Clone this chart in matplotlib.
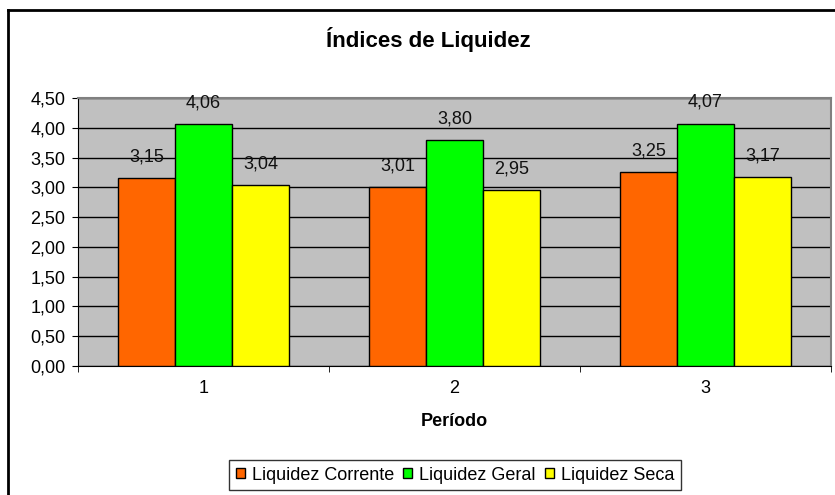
import numpy as np
import matplotlib.pyplot as plt
from matplotlib.lines import Line2D

plt.rcParams['font.family'] = ['Liberation Sans', 'DejaVu Sans']

periodos = ['1', '2', '3']
series = ['Liquidez Corrente', 'Liquidez Geral', 'Liquidez Seca']
corrente = [3.15, 3.01, 3.25]
geral = [4.06, 3.80, 4.07]
seca = [3.04, 2.95, 3.17]
cores = ['#FF6600', '#00FF00', '#FFFF00']
yticks = [0, 0.5, 1.0, 1.5, 2.0, 2.5, 3.0, 3.5, 4.0, 4.5]

W, H = 835, 495
fig = plt.figure(figsize=(W / 100, H / 100), dpi=100)
ax = fig.add_axes([78 / W, 1 - 366 / H, 753 / W, 268 / H])
ax.set_facecolor('#C0C0C0')

x = np.arange(len(periodos))
w = 0.227
for i, (vals, nome) in enumerate(zip([corrente, geral, seca], series)):
    pos = x + (i - 1) * w
    ax.bar(pos, vals, width=w, color=cores[i], edgecolor='black', linewidth=1, label=nome, zorder=3)
    for p, v in zip(pos, vals):
        ax.annotate(f'{v:.2f}'.replace('.', ','), (p, v), xytext=(0, 12), textcoords='offset points',
                    ha='center', va='baseline', fontsize=13, color='#111111', zorder=4)

ax.set_xlim(-0.5, 2.5)
ax.set_ylim(0, 4.5)
ax.set_yticks(yticks)
ax.set_yticklabels([f'{t:.2f}'.replace('.', ',') for t in yticks], fontsize=13)
ax.yaxis.grid(True, color='black', linewidth=1, zorder=0)
ax.set_axisbelow(True)

ax.set_xticks(x)
ax.set_xticklabels(periodos, fontsize=13)
ax.set_xticks([-0.5, 0.5, 1.5, 2.5], minor=True)
ax.tick_params(axis='x', which='major', length=0, pad=10)
ax.tick_params(axis='x', which='minor', length=4, color='black')
ax.tick_params(axis='y', length=4, color='black', pad=5)

for s in ['top', 'right']:
    ax.spines[s].set_color('#808080')
    ax.spines[s].set_linewidth(1.5)
ax.spines['left'].set_color('black')
ax.spines['bottom'].set_color('black')

fig.text(454 / W, 1 - 421 / H, 'Período', ha='center', va='center', fontsize=13, fontweight='bold')
fig.text(428 / W, 1 - 40 / H, 'Índices de Liquidez', ha='center', va='center', fontsize=16, fontweight='bold')

leg = fig.legend(loc='center', bbox_to_anchor=(455 / W, 1 - 475 / H), ncol=3, fontsize=13,
                 frameon=True, fancybox=False, edgecolor='black', handlelength=0.5, handleheight=0.5,
                 handletextpad=0.4, columnspacing=0.5, borderpad=0.35, borderaxespad=0)
leg.get_frame().set_linewidth(1)

# moldura externa (só esquerda e topo aparecem)
fig.add_artist(Line2D([8 / W, 8 / W], [0, 1 - 10 / H], transform=fig.transFigure, color='black', linewidth=2))
fig.add_artist(Line2D([8 / W, 1], [1 - 10 / H, 1 - 10 / H], transform=fig.transFigure, color='black', linewidth=2))

fig.savefig('out.png', dpi=100)
